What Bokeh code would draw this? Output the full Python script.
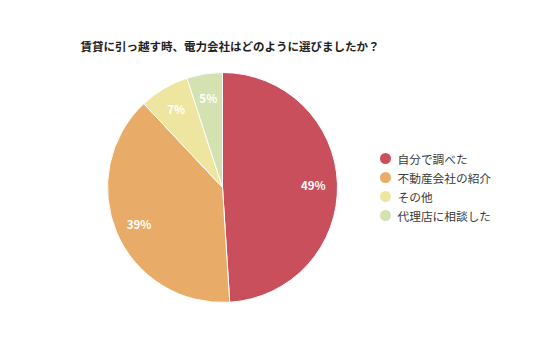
import math
from bokeh.plotting import figure
from bokeh.models import Range1d, ColumnDataSource
from bokeh.core.properties import value
from bokeh.embed import file_html
from bokeh.resources import INLINE

title = "賃貸に引っ越す時、電力会社はどのように選びましたか？"
categories = ["自分で調べた", "不動産会社の紹介", "その他", "代理店に相談した"]
values = [49, 39, 7, 5]
colors = ["#C94F5D", "#E8AC68", "#EEE6A0", "#D3E2B0"]

W, H = 536, 357
CX, CY, R = 222, H - 187, 115
FONT = "Noto Sans CJK JP"

p = figure(width=W, height=H, output_backend="svg", toolbar_location=None,
           x_range=Range1d(0, W), y_range=Range1d(0, H), min_border=0)
p.axis.visible = False
p.grid.visible = False
p.outline_line_color = None
p.background_fill_color = "white"

total = sum(values)
starts, ends, lx, ly, labels = [], [], [], [], []
cum = 0
for v in values:
    a0 = math.pi / 2 - 2 * math.pi * cum / total
    cum += v
    a1 = math.pi / 2 - 2 * math.pi * cum / total
    starts.append(a0)
    ends.append(a1)
    mid = (a0 + a1) / 2
    lx.append(CX + 0.79 * R * math.cos(mid))
    ly.append(CY + 0.79 * R * math.sin(mid))
    labels.append(f"{v}%")

src = ColumnDataSource(dict(start=starts, end=ends, color=colors))
p.wedge(x=CX, y=CY, radius=R, start_angle="start", end_angle="end",
        direction="clock", fill_color="color", line_color="white",
        line_width=1, source=src)

p.text(x=lx, y=ly, text=labels, text_color="white", text_font=value(FONT),
       text_font_style="bold", text_font_size="11.5px",
       text_align="center", text_baseline="middle")

# title
p.text(x=[80], y=[H - 45], text=[title], text_color="#222222", text_font=value(FONT),
       text_font_style="bold", text_font_size="11.5px",
       text_align="left", text_baseline="middle")

# legend
leg_y = [H - (158 + 19 * i) for i in range(len(categories))]
p.scatter(x=[385] * len(categories), y=leg_y, size=11, marker="circle",
          fill_color=colors, line_color=None)
p.text(x=[397] * len(categories), y=leg_y, text=categories, text_color="#3a3a3a",
       text_font=value(FONT), text_font_size="11.7px",
       text_align="left", text_baseline="middle")

open("out.html", "w").write(file_html(p, INLINE))
